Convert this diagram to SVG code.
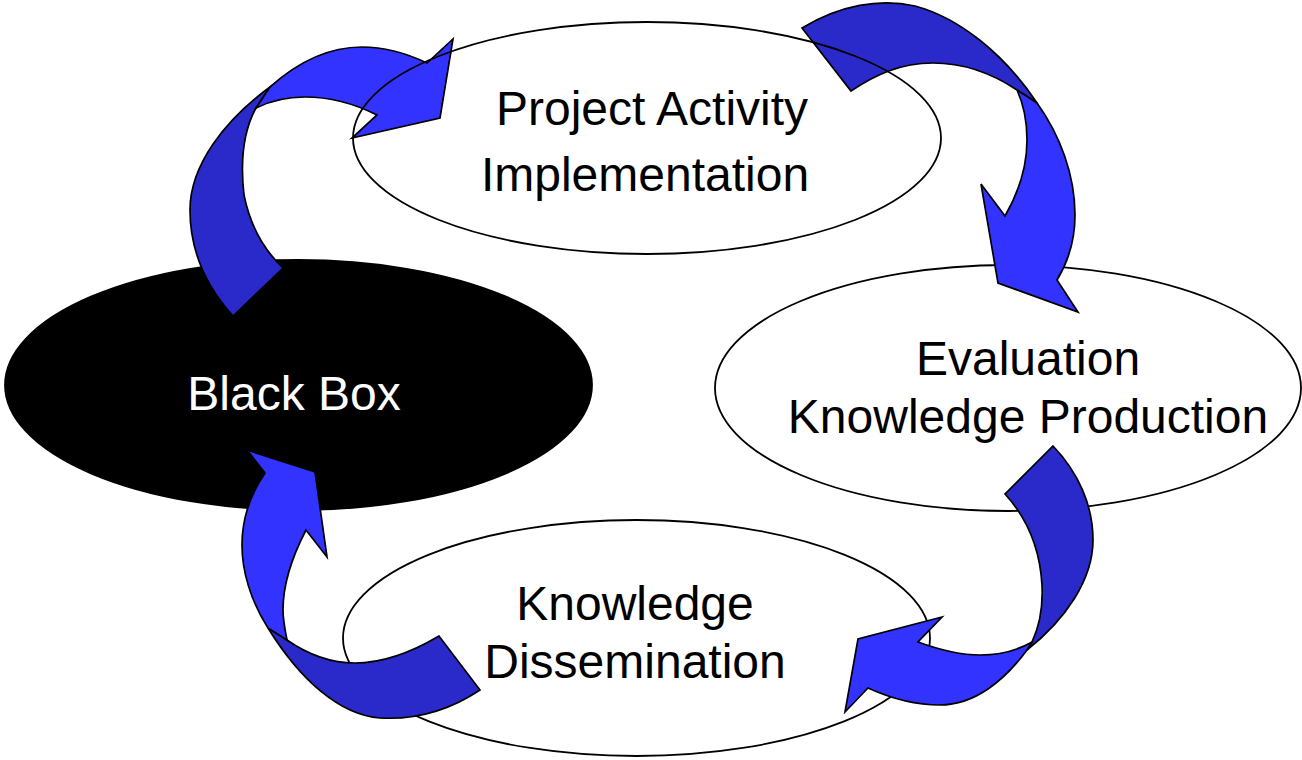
<svg xmlns="http://www.w3.org/2000/svg" width="1302" height="760" viewBox="0 0 1302 760">
<style>
.node{stroke:#000;stroke-width:1.8}
.white{fill:#fff}
.lbl{font-family:"Liberation Sans",Arial,sans-serif;font-size:48px;text-anchor:middle;fill:#000}
.lt{fill:#3333FF;stroke:#000;stroke-width:1.7;stroke-linejoin:miter}
.dk{fill:#2A2ACB;stroke:#000;stroke-width:1.7;stroke-linejoin:miter}
</style>
<rect width="1302" height="760" fill="#fff"/>
<g id="black-box">
<ellipse class="node" cx="298.5" cy="385" rx="293.5" ry="125" fill="#000"/>
<text class="lbl" x="294" y="410" style="fill:#fff">Black Box</text>
</g>
<g id="evaluation">
<ellipse class="node white" cx="1008" cy="388" rx="293" ry="123"/>
<text class="lbl" x="1028" y="375">Evaluation</text>
<text class="lbl" x="1028" y="433">Knowledge Production</text>
</g>
<g id="dissemination">
<ellipse class="node white" cx="636.5" cy="638" rx="293.5" ry="118"/>
<text class="lbl" x="635" y="620">Knowledge</text>
<text class="lbl" x="635" y="678">Dissemination</text>
</g>
<g id="connectors">
<g id="arrow-bb-to-pa">
<path class="dk" d="M233,316 C205,285 190,250 190,210 C190,165 225,120 270,87 L256,108 C244,130 240,160 244,195 C250,225 262,248 283,268 Z"/>
<path class="lt" d="M270,87 C300,60 330,47 362,47 C385,47 408,54 427,63 L453,39 L440,118 L352,138 L377,115 C355,104 330,97 305,97 C285,97 268,102 256,108 Z"/>
</g>
<g id="arrow-pa-to-ev">
<path class="dk" d="M802,28 C840,5 880,-2 915,6 C960,18 1005,55 1037,103 L1017,90 C990,72 960,63 933,63 C900,63 875,75 851,91 Z"/>
<path class="lt" d="M1037,103 C1060,135 1075,175 1075,215 C1075,240 1068,262 1057,280 L1078,312 L998,283 L981,184 L1005,216 C1020,190 1027,165 1027,140 C1027,120 1023,103 1017,90 Z"/>
</g>
<g id="arrow-ev-to-kd">
<path class="dk" d="M1053,446 C1078,472 1093,505 1093,540 C1093,580 1065,620 1027,650 L1032,642 C1040,625 1043,605 1042,585 C1040,550 1027,518 1005,494 Z"/>
<path class="lt" d="M1027,650 C1005,680 975,705 940,705 C915,705 890,698 868,688 L845,712 L858,639 L942,617 L918,642 C940,650 960,655 980,655 C1000,655 1018,650 1032,642 Z"/>
</g>
<g id="arrow-kd-to-bb">
<path class="dk" d="M480,690 C450,710 415,720 380,718 C340,715 300,680 268,628 L287,640 C310,656 333,663 355,663 C385,663 412,652 439,636 Z"/>
<path class="lt" d="M268,628 C250,600 242,570 242,545 C242,520 250,495 265,473 L247,450 L315,472 L327,557 L306,530 C293,555 283,583 283,610 C283,620 285,630 287,640 Z"/>
</g>
</g>
<g id="project-activity">
<ellipse class="node" cx="647" cy="138" rx="294" ry="116" fill="none"/>
<text class="lbl" x="652" y="125">Project Activity</text>
<text class="lbl" x="645" y="191">Implementation</text>
</g>
</svg>
